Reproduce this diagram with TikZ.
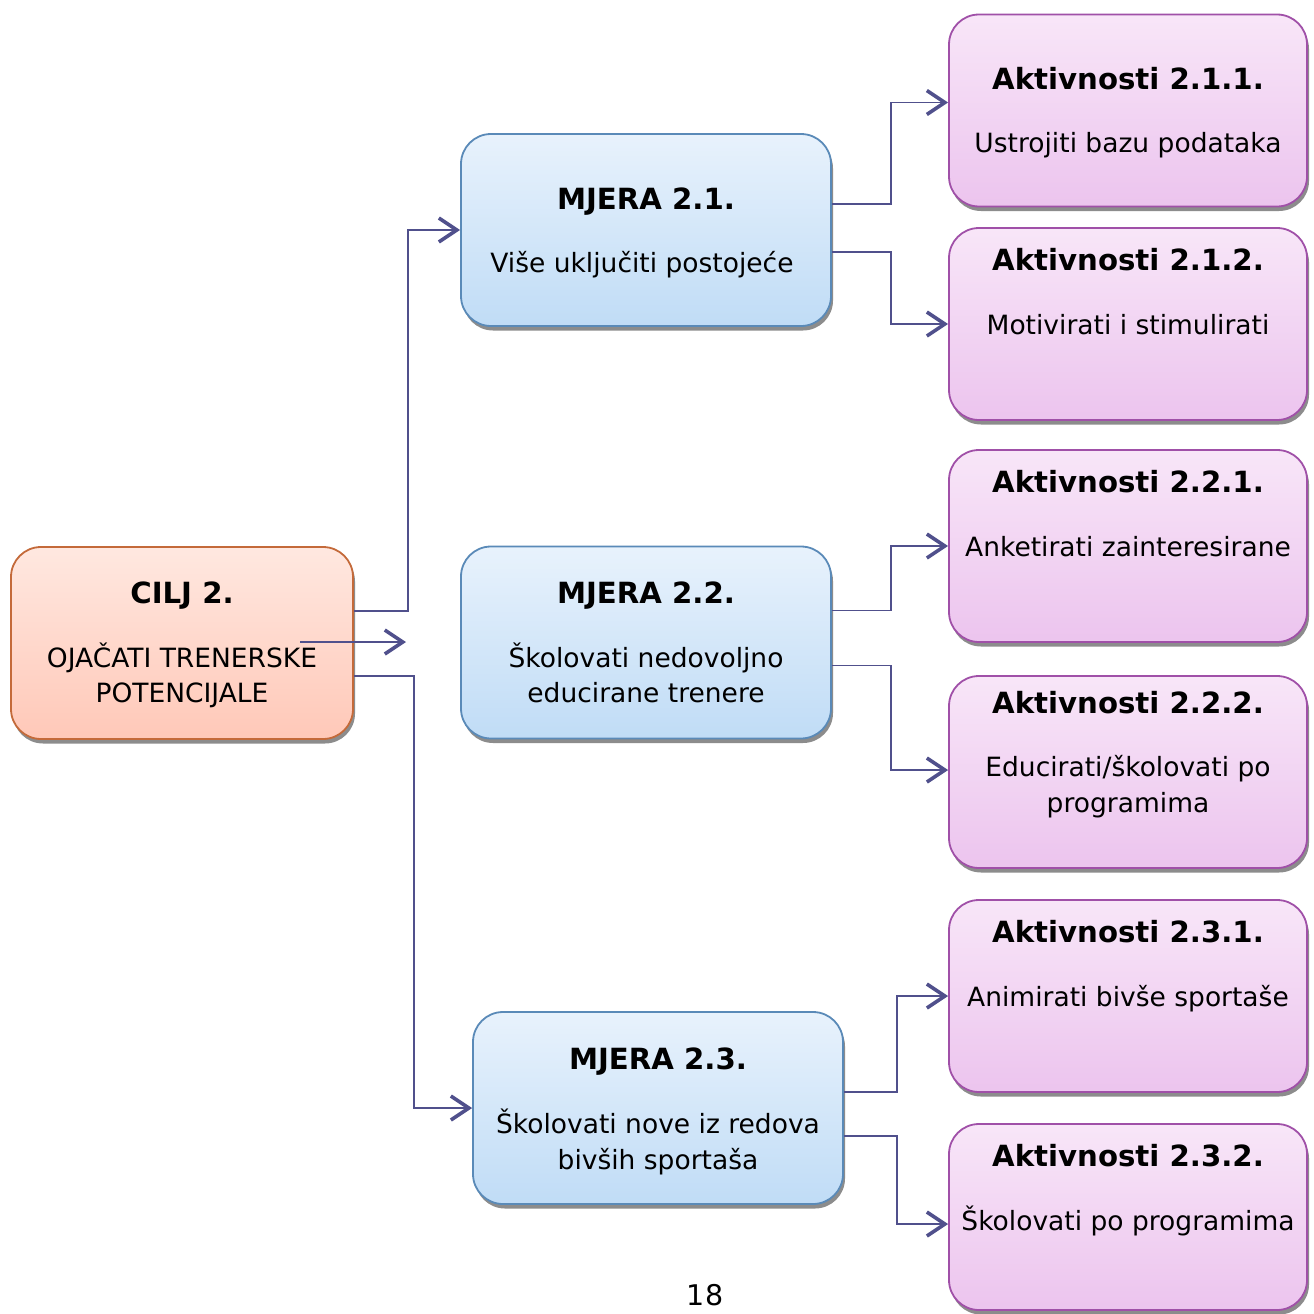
\documentclass[tikz,border=0pt]{standalone}
\usepackage{fontspec}
\setmainfont{DejaVu Sans}
\usetikzlibrary{arrows.meta,shadows}
\definecolor{conn}{RGB}{80,80,140}
\definecolor{ciljtop}{RGB}{255,232,224}
\definecolor{ciljbot}{RGB}{255,200,184}
\definecolor{ciljdraw}{RGB}{196,106,58}
\definecolor{mjtop}{RGB}{232,242,252}
\definecolor{mjbot}{RGB}{192,220,246}
\definecolor{mjdraw}{RGB}{90,138,184}
\definecolor{aktop}{RGB}{248,230,248}
\definecolor{akbot}{RGB}{236,196,238}
\definecolor{akdraw}{RGB}{160,80,168}
\begin{document}
\begin{tikzpicture}[x=1pt,y=-1pt,
  box/.style={rounded corners=30pt, line width=1.8pt, inner sep=0pt,
    drop shadow={shadow xshift=2pt,shadow yshift=-4.5pt,fill=black!60,opacity=0.75}},
  cilj/.style={box, draw=ciljdraw, top color=ciljtop, bottom color=ciljbot,
    minimum width=342pt, minimum height=192pt},
  mjera/.style={box, draw=mjdraw, top color=mjtop, bottom color=mjbot,
    minimum width=370pt, minimum height=192pt},
  akt/.style={box, draw=akdraw, top color=aktop, bottom color=akbot,
    minimum width=358pt, minimum height=192pt},
  ttl/.style={anchor=base, inner sep=0pt, font=\fontsize{29.2}{35}\selectfont\bfseries},
  txt/.style={anchor=base, inner sep=0pt, font=\fontsize{26.5}{35}\selectfont},
  link/.style={draw=conn, line width=1.9pt,
    -{Straight Barb[length=18pt,width=24pt,line width=3.6pt]}}]
\fill[white] (0,0) rectangle (1314,1314);
\useasboundingbox (0,0) rectangle (1314,1314);

% boxes
\node[cilj]  (c)  at (182,643)    {};
\node[mjera] (m1) at (646,230)    {};
\node[mjera] (m2) at (646,642.5)  {};
\node[mjera] (m3) at (658,1108)   {};
\node[akt]   (a1) at (1128,110.5) {};
\node[akt]   (a2) at (1128,324)   {};
\node[akt]   (a3) at (1128,546)   {};
\node[akt]   (a4) at (1128,772)   {};
\node[akt]   (a5) at (1128,996)   {};
\node[akt, minimum height=186pt] (a6) at (1128,1217) {};

% texts
\node[ttl] (ct) at (182,603) {CILJ 2.};
\node[txt] (cb1) at (182,667) {OJAČATI TRENERSKE};
\node[txt] (cb2) at (182,702) {POTENCIJALE};

\node[ttl] (m1t) at (646,209) {MJERA 2.1.};
\node[txt] (m1b) at (642,272) {Više uključiti postojeće};

\node[ttl] (m2t) at (646,603) {MJERA 2.2.};
\node[txt] (m2b1) at (646,667) {Školovati nedovoljno};
\node[txt] (m2b2) at (646,702) {educirane trenere};

\node[ttl] (m3t) at (658,1069) {MJERA 2.3.};
\node[txt] (m3b1) at (658,1133) {Školovati nove iz redova};
\node[txt] (m3b2) at (658,1169) {bivših sportaša};

\node[ttl] (a1t) at (1128,89)   {Aktivnosti 2.1.1.};
\node[txt] (a1b) at (1128,152)  {Ustrojiti bazu podataka};
\node[ttl] (a2t) at (1128,270)  {Aktivnosti 2.1.2.};
\node[txt] (a2b) at (1128,334)  {Motivirati i stimulirati};
\node[ttl] (a3t) at (1128,492)  {Aktivnosti 2.2.1.};
\node[txt] (a3b) at (1128,556)  {Anketirati zainteresirane};
\node[ttl] (a4t) at (1128,713)  {Aktivnosti 2.2.2.};
\node[txt] (a4b1) at (1128,776) {Educirati/školovati po};
\node[txt] (a4b2) at (1128,812) {programima};
\node[ttl] (a5t) at (1128,942)  {Aktivnosti 2.3.1.};
\node[txt] (a5b) at (1128,1006) {Animirati bivše sportaše};
\node[ttl] (a6t) at (1128,1166) {Aktivnosti 2.3.2.};
\node[txt] (a6b) at (1128,1230) {Školovati po programima};

\node[txt, font=\fontsize{28.5}{35}\selectfont] (page) at (705,1305) {18};

% connectors
\draw[link] ([yshift=32pt]c.east) -- ++(54,0) |- (m1.west);
\draw[link] ([yshift=-33pt]c.east) -- ++(60,0) |- (m3.west);
\coordinate (stray) at (406,642);
\draw[link] ([xshift=118pt,yshift=1pt]c.center) -- (stray);

\draw[link] ([yshift=26pt]m1.east) -- ++(59,0) |- ([yshift=8pt]a1.west);
\draw[link] ([yshift=-22pt]m1.east) -- ++(59,0) |- (a2.west);
\draw[link] ([yshift=32pt]m2.east) -- ++(59,0) |- (a3.west);
\draw[link] ([yshift=-23pt]m2.east) -- ++(59,0) |- ([yshift=2pt]a4.west);
\draw[link] ([yshift=16pt]m3.east) -- ++(53,0) |- (a5.west);
\draw[link] ([yshift=-28pt]m3.east) -- ++(53,0) |- ([yshift=-7pt]a6.west);
\end{tikzpicture}
\end{document}
